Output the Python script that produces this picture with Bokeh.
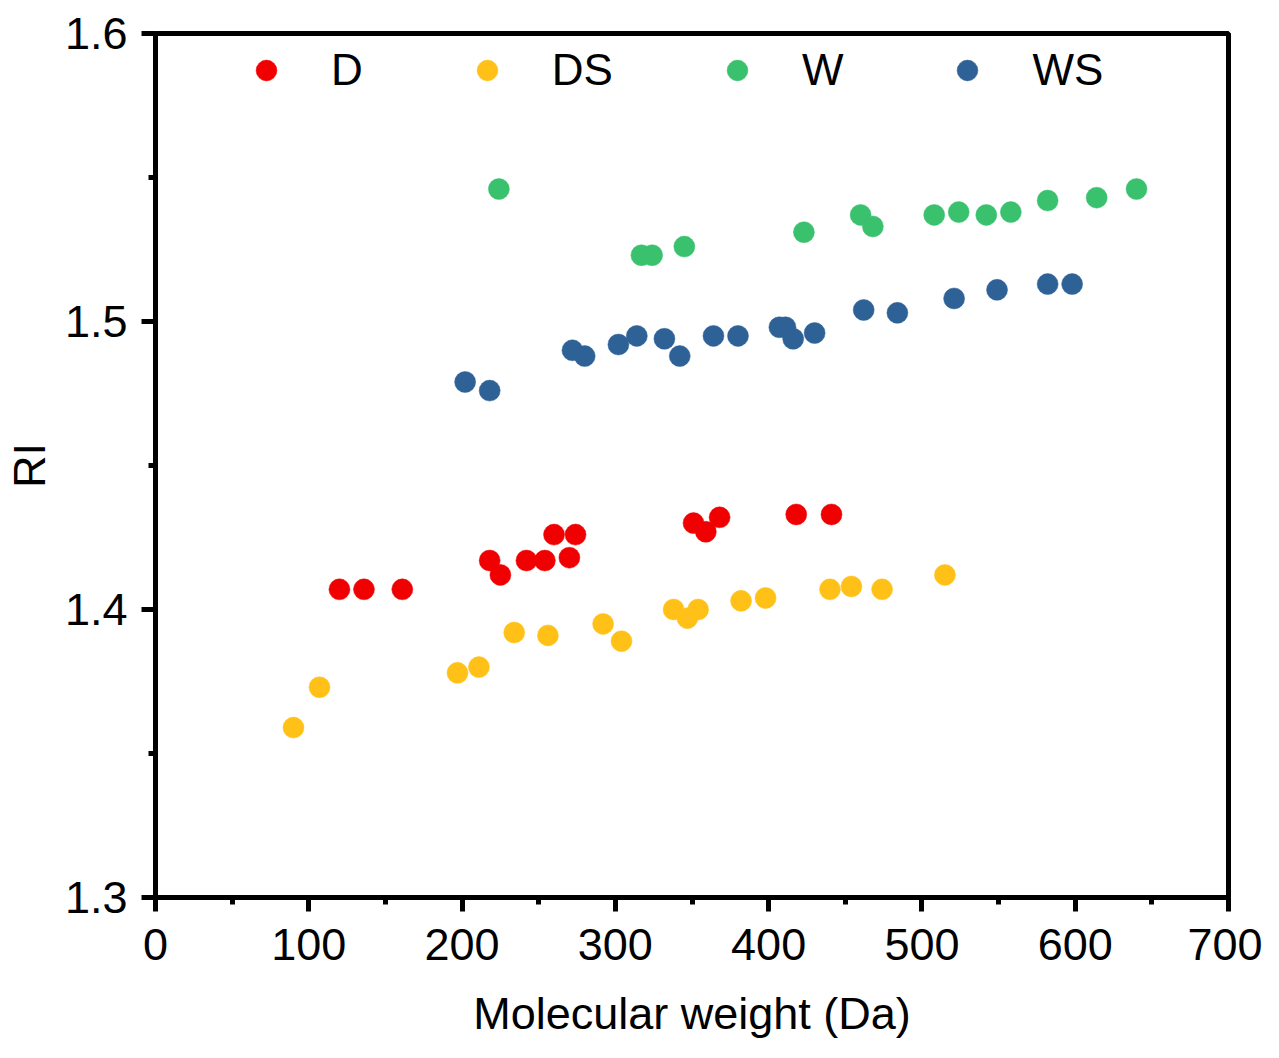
from bokeh.embed import file_html
from bokeh.models import (ColumnDataSource, Legend, LegendItem, Range1d,
                          FixedTicker, PrintfTickFormatter)
from bokeh.plotting import figure
from bokeh.resources import INLINE

# data
d_mw = [120, 136, 161, 218, 225, 242, 254, 260, 270, 274, 351, 359, 368, 418, 441]
d_ri = [1.407, 1.407, 1.407, 1.417, 1.412, 1.417, 1.417, 1.426, 1.418, 1.426,
        1.430, 1.427, 1.432, 1.433, 1.433]

ds_mw = [90, 107, 197, 211, 234, 256, 292, 304, 338, 347, 354, 382, 398, 440, 454, 474, 515]
ds_ri = [1.359, 1.373, 1.378, 1.380, 1.392, 1.391, 1.395, 1.389, 1.400, 1.397,
         1.400, 1.403, 1.404, 1.407, 1.408, 1.407, 1.412]

w_mw = [224, 317, 324, 345, 423, 460, 468, 508, 524, 542, 558, 582, 614, 640]
w_ri = [1.546, 1.523, 1.523, 1.526, 1.531, 1.537, 1.533, 1.537, 1.538, 1.537,
        1.538, 1.542, 1.543, 1.546]

ws_mw = [202, 218, 272, 280, 302, 314, 332, 342, 364, 380, 407, 411, 416, 430,
         462, 484, 521, 549, 582, 598]
ws_ri = [1.479, 1.476, 1.490, 1.488, 1.492, 1.495, 1.494, 1.488, 1.495, 1.495,
         1.498, 1.498, 1.494, 1.496, 1.504, 1.503, 1.508, 1.511, 1.513, 1.513]

x_ticks = [0, 100, 200, 300, 400, 500, 600, 700]
x_minor = [50, 150, 250, 350, 450, 550, 650]
y_ticks = [1.3, 1.4, 1.5, 1.6]
y_minor = [1.35, 1.45, 1.55]

series = [
    ("D", d_mw, d_ri, "#F00000"),
    ("DS", ds_mw, ds_ri, "#FFC117"),
    ("W", w_mw, w_ri, "#3AC16E"),
    ("WS", ws_mw, ws_ri, "#2E6296"),
]

FONT = "Liberation Sans"

p = figure(width=1262, height=1042, output_backend="svg", toolbar_location=None,
           tools="", x_range=Range1d(0, 700), y_range=Range1d(1.3, 1.6),
           min_border_left=155, min_border_right=34, min_border_top=33,
           min_border_bottom=145)

p.xgrid.grid_line_color = None
p.ygrid.grid_line_color = None
p.outline_line_color = "black"
p.outline_line_width = 5

items = []
for name, xs, ys, color in series:
    src = ColumnDataSource(dict(x=xs, y=ys))
    r = p.scatter("x", "y", source=src, size=21, fill_color=color, line_color=color,
                  line_width=0.5)
    items.append(LegendItem(label=name, renderers=[r]))

p.xaxis.ticker = FixedTicker(ticks=x_ticks, minor_ticks=x_minor)
p.yaxis.ticker = FixedTicker(ticks=y_ticks, minor_ticks=y_minor)
p.yaxis.formatter = PrintfTickFormatter(format="%.1f")

for ax in (p.xaxis[0], p.yaxis[0]):
    ax.axis_line_width = 5
    ax.axis_line_color = "black"
    ax.major_tick_line_width = 5
    ax.minor_tick_line_width = 5
    ax.major_tick_out = 14
    ax.major_tick_in = 0
    ax.minor_tick_out = 7
    ax.minor_tick_in = 0
    ax.major_label_text_font = FONT
    ax.major_label_text_font_size = "45px"
    ax.major_label_text_color = "black"
    ax.axis_label_text_font = FONT
    ax.axis_label_text_font_size = "45px"
    ax.axis_label_text_font_style = "normal"
    ax.axis_label_text_color = "black"

p.xaxis.axis_label = "Molecular weight (Da)"
p.yaxis.axis_label = "RI"
p.xaxis.major_label_standoff = 17
p.xaxis.axis_label_standoff = 25
p.yaxis.major_label_standoff = 14
p.yaxis.axis_label_standoff = 7

legend = Legend(items=items, orientation="horizontal", location=(85, 801),
                glyph_width=52, glyph_height=52, label_standoff=39, spacing=98,
                padding=0, margin=0, border_line_color=None,
                background_fill_alpha=0, label_text_font=FONT,
                label_text_color="black",
                label_text_font_size="44px", label_height=52)
p.add_layout(legend, "center")

open("out.html", "w").write(file_html(p, INLINE))
